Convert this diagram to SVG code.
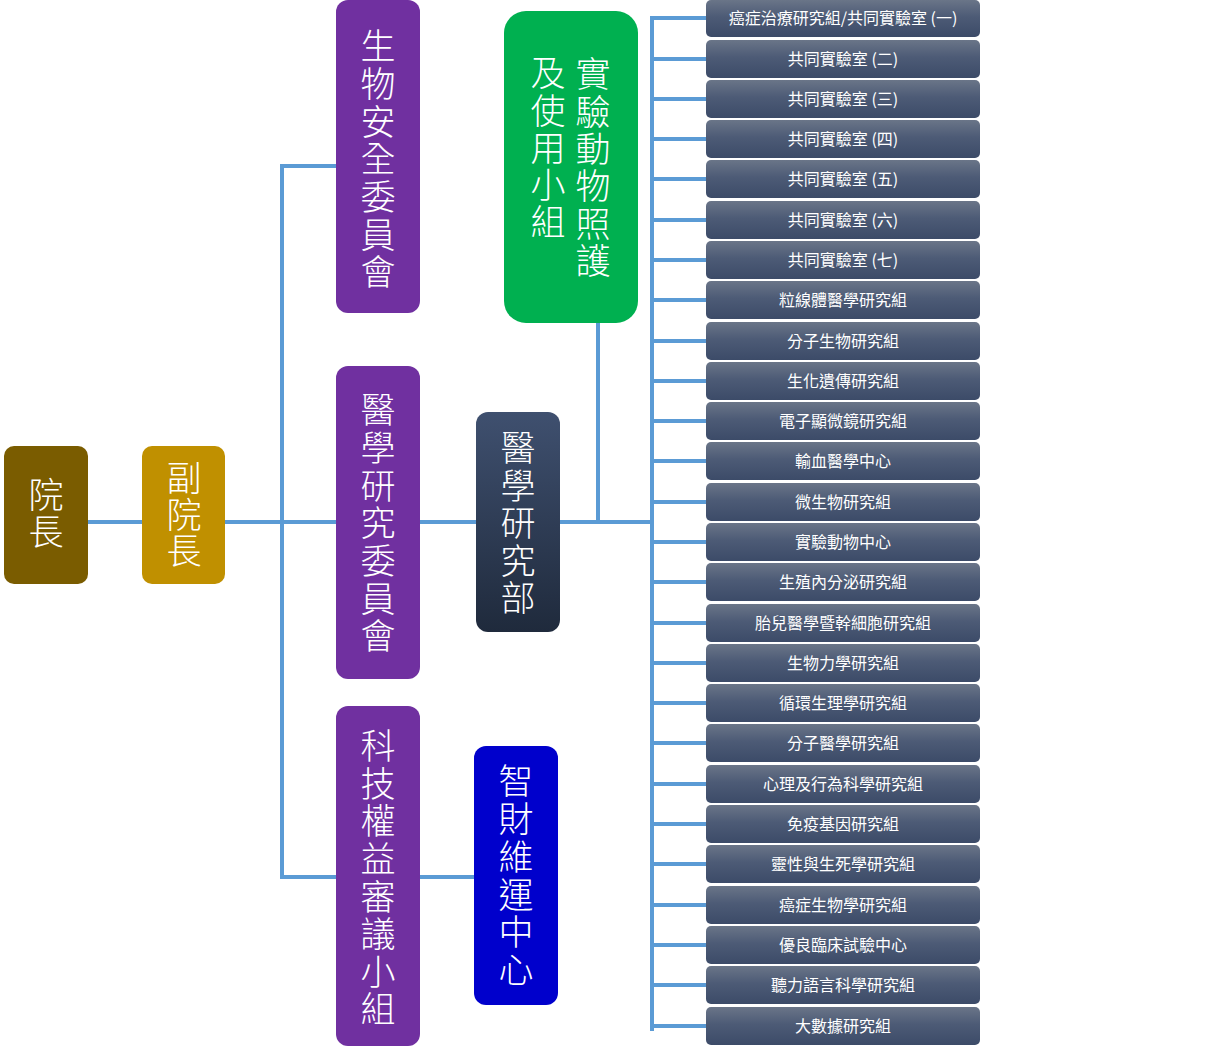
<svg xmlns="http://www.w3.org/2000/svg" width="1223" height="1049" viewBox="0 0 1223 1049">
<defs>
<linearGradient id="gBox" x1="0" y1="0" x2="0" y2="1">
<stop offset="0" stop-color="#6A7588"/>
<stop offset="0.45" stop-color="#4D5B76"/>
<stop offset="1" stop-color="#3C4B68"/>
</linearGradient>
<linearGradient id="gDept" x1="0" y1="0" x2="0" y2="1">
<stop offset="0" stop-color="#3F506F"/>
<stop offset="1" stop-color="#1F2A3C"/>
</linearGradient>
</defs>
<style>
.conn{stroke:#5B9BD5;stroke-width:4;fill:none}
.big{font-family:"Noto Sans CJK TC","Noto Sans CJK SC",sans-serif;font-weight:300;font-size:35px;fill:#FFFFFF;writing-mode:vertical-rl;text-anchor:start}
.sm{font-family:"Noto Sans CJK TC","Noto Sans CJK SC",sans-serif;font-size:16px;fill:#FFFFFF;text-anchor:middle}
.unit{fill:url(#gBox)}
</style>
<rect width="1223" height="1049" fill="#FFFFFF"/>
<g id="connectors">
<path class="conn" d="M88 522H142"/>
<path class="conn" d="M225 522H336"/>
<path class="conn" d="M282 166V877"/>
<path class="conn" d="M280 166H336"/>
<path class="conn" d="M280 877H336"/>
<path class="conn" d="M420 522H476"/>
<path class="conn" d="M420 877H474"/>
<path class="conn" d="M560 522H654"/>
<path class="conn" d="M598 323V522"/>
<path class="conn" d="M652 17V1031"/>
<path class="conn" d="M650 18H706M650 59H706M650 99H706M650 139H706M650 179H706M650 220H706M650 260H706M650 300H706M650 341H706M650 381H706M650 421H706M650 461H706M650 502H706M650 542H706M650 582H706M650 623H706M650 663H706M650 703H706M650 743H706M650 784H706M650 824H706M650 864H706M650 905H706M650 945H706M650 985H706M650 1026H706"/>
</g>
<g id="president">
<rect x="4" y="446" width="84" height="138" rx="10" fill="#7A5C00"/>
<text class="big" x="46" y="477.5" letter-spacing="2">院長</text>
</g>
<g id="vice-president">
<rect x="142" y="446" width="83" height="138" rx="10" fill="#C09000"/>
<text class="big" x="184" y="460.5" letter-spacing="1.5">副院長</text>
</g>
<g id="biosafety">
<rect x="336" y="0" width="84" height="313" rx="12" fill="#7030A0"/>
<text class="big" x="378" y="28.5" letter-spacing="2.7">生物安全委員會</text>
</g>
<g id="med-research-committee">
<rect x="336" y="366" width="84" height="313" rx="12" fill="#7030A0"/>
<text class="big" x="378" y="392.5" letter-spacing="2.7">醫學研究委員會</text>
</g>
<g id="tech-rights">
<rect x="336" y="706" width="84" height="340" rx="12" fill="#7030A0"/>
<text class="big" x="378" y="728.5" letter-spacing="2.6">科技權益審議小組</text>
</g>
<g id="animal-care">
<rect x="504" y="11" width="134" height="312" rx="22" fill="#00B050"/>
<text class="big" x="593" y="56.5" letter-spacing="2.4">實驗動物照護</text>
<text class="big" x="548" y="55.5" letter-spacing="2.3">及使用小組</text>
</g>
<g id="med-research-dept">
<rect x="476" y="412" width="84" height="220" rx="12" fill="url(#gDept)"/>
<text class="big" x="518" y="430.5" letter-spacing="2.5">醫學研究部</text>
</g>
<g id="ip-center">
<rect x="474" y="746" width="84" height="259" rx="12" fill="#0000CC"/>
<text class="big" x="516" y="763.5" letter-spacing="2.8">智財維運中心</text>
</g>
<g id="unit-01"><rect class="unit" x="706" y="0" width="274" height="37" rx="5"/><text class="sm" x="843" y="24">癌症治療研究組/共同實驗室 (一)</text></g>
<g id="unit-02"><rect class="unit" x="706" y="40" width="274" height="38" rx="5"/><text class="sm" x="843" y="65">共同實驗室 (二)</text></g>
<g id="unit-03"><rect class="unit" x="706" y="80" width="274" height="38" rx="5"/><text class="sm" x="843" y="105">共同實驗室 (三)</text></g>
<g id="unit-04"><rect class="unit" x="706" y="120" width="274" height="38" rx="5"/><text class="sm" x="843" y="145">共同實驗室 (四)</text></g>
<g id="unit-05"><rect class="unit" x="706" y="160" width="274" height="38" rx="5"/><text class="sm" x="843" y="185">共同實驗室 (五)</text></g>
<g id="unit-06"><rect class="unit" x="706" y="201" width="274" height="38" rx="5"/><text class="sm" x="843" y="226">共同實驗室 (六)</text></g>
<g id="unit-07"><rect class="unit" x="706" y="241" width="274" height="38" rx="5"/><text class="sm" x="843" y="266">共同實驗室 (七)</text></g>
<g id="unit-08"><rect class="unit" x="706" y="281" width="274" height="38" rx="5"/><text class="sm" x="843" y="306">粒線體醫學研究組</text></g>
<g id="unit-09"><rect class="unit" x="706" y="322" width="274" height="38" rx="5"/><text class="sm" x="843" y="347">分子生物研究組</text></g>
<g id="unit-10"><rect class="unit" x="706" y="362" width="274" height="38" rx="5"/><text class="sm" x="843" y="387">生化遺傳研究組</text></g>
<g id="unit-11"><rect class="unit" x="706" y="402" width="274" height="38" rx="5"/><text class="sm" x="843" y="427">電子顯微鏡研究組</text></g>
<g id="unit-12"><rect class="unit" x="706" y="442" width="274" height="38" rx="5"/><text class="sm" x="843" y="467">輸血醫學中心</text></g>
<g id="unit-13"><rect class="unit" x="706" y="483" width="274" height="38" rx="5"/><text class="sm" x="843" y="508">微生物研究組</text></g>
<g id="unit-14"><rect class="unit" x="706" y="523" width="274" height="38" rx="5"/><text class="sm" x="843" y="548">實驗動物中心</text></g>
<g id="unit-15"><rect class="unit" x="706" y="563" width="274" height="38" rx="5"/><text class="sm" x="843" y="588">生殖內分泌研究組</text></g>
<g id="unit-16"><rect class="unit" x="706" y="604" width="274" height="38" rx="5"/><text class="sm" x="843" y="629">胎兒醫學暨幹細胞研究組</text></g>
<g id="unit-17"><rect class="unit" x="706" y="644" width="274" height="38" rx="5"/><text class="sm" x="843" y="669">生物力學研究組</text></g>
<g id="unit-18"><rect class="unit" x="706" y="684" width="274" height="38" rx="5"/><text class="sm" x="843" y="709">循環生理學研究組</text></g>
<g id="unit-19"><rect class="unit" x="706" y="724" width="274" height="38" rx="5"/><text class="sm" x="843" y="749">分子醫學研究組</text></g>
<g id="unit-20"><rect class="unit" x="706" y="765" width="274" height="38" rx="5"/><text class="sm" x="843" y="790">心理及行為科學研究組</text></g>
<g id="unit-21"><rect class="unit" x="706" y="805" width="274" height="38" rx="5"/><text class="sm" x="843" y="830">免疫基因研究組</text></g>
<g id="unit-22"><rect class="unit" x="706" y="845" width="274" height="38" rx="5"/><text class="sm" x="843" y="870">靈性與生死學研究組</text></g>
<g id="unit-23"><rect class="unit" x="706" y="886" width="274" height="38" rx="5"/><text class="sm" x="843" y="911">癌症生物學研究組</text></g>
<g id="unit-24"><rect class="unit" x="706" y="926" width="274" height="38" rx="5"/><text class="sm" x="843" y="951">優良臨床試驗中心</text></g>
<g id="unit-25"><rect class="unit" x="706" y="966" width="274" height="38" rx="5"/><text class="sm" x="843" y="991">聽力語言科學研究組</text></g>
<g id="unit-26"><rect class="unit" x="706" y="1007" width="274" height="38" rx="5"/><text class="sm" x="843" y="1032">大數據研究組</text></g>
</svg>
